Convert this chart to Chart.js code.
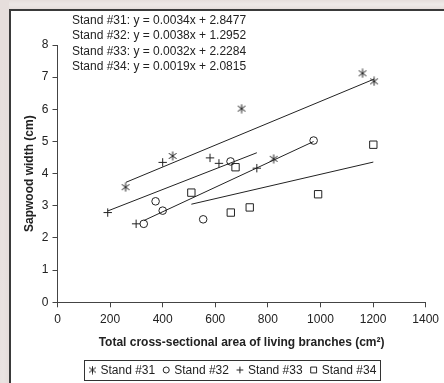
<!DOCTYPE html>
<html>
<head>
<meta charset="utf-8">
<script src="https://cdn.jsdelivr.net/npm/chart.js@4/dist/chart.umd.min.js"></script>
<style>
  html, body { margin: 0; padding: 0; background: #ffffff; overflow: hidden; }
  .bg { position: absolute; background-color: #e6dedc;
        background-image: radial-gradient(ellipse at 30% 50%, rgba(255,255,255,0.4), rgba(255,255,255,0) 70%); }
  #bgTop { left: 0; top: 0; width: 2000px; height: 9px; }
  #bgLeft { left: 0; top: 0; width: 9px; height: 2000px; }
  #lineTop { position: absolute; left: 9px; top: 9px; width: 2000px; height: 1.5px; background: #3a3a3a; }
  #lineLeft { position: absolute; left: 9px; top: 9px; width: 1.5px; height: 2000px; background: #3a3a3a; }
  #wrap { position: absolute; left: 0; top: 0; width: 444px; height: 383px; }
</style>
</head>
<body>
<div class="bg" id="bgTop"></div>
<div class="bg" id="bgLeft"></div>
<div id="lineTop"></div>
<div id="lineLeft"></div>
<div id="wrap"><canvas id="c" width="444" height="383"></canvas></div>
<script>
// ---- Data ----
const standLabels = ['Stand #31', 'Stand #32', 'Stand #33', 'Stand #34'];
const equations = [
  'Stand #31: y = 0.0034x + 2.8477',
  'Stand #32: y = 0.0038x + 1.2952',
  'Stand #33: y = 0.0032x + 2.2284',
  'Stand #34: y = 0.0019x + 2.0815'
];
const s31x = [259, 438, 700, 822, 1160, 1204];
const s31y = [3.58, 4.55, 6.02, 4.46, 7.12, 6.87];
const s32x = [328, 373, 400, 554, 658, 974];
const s32y = [2.44, 3.14, 2.85, 2.58, 4.38, 5.03];
const s33x = [191, 299, 400, 580, 614, 758];
const s33y = [2.79, 2.44, 4.35, 4.49, 4.32, 4.17];
const s34x = [509, 659, 677, 731, 991, 1201];
const s34y = [3.41, 2.79, 4.20, 2.95, 3.36, 4.90];
// trend line end points
const t31x = [260, 1204]; const t31y = [3.73, 6.94];
const t32x = [328, 974];  const t32y = [2.54, 5.00];
const t33x = [191, 758];  const t33y = [2.84, 4.65];
const t34x = [509, 1201]; const t34y = [3.05, 4.36];
const xTicks = [0, 200, 400, 600, 800, 1000, 1200, 1400];
const yTicks = [0, 1, 2, 3, 4, 5, 6, 7, 8];

const INK = '#222222';
const FONT = '"Liberation Sans", Arial, sans-serif';

function pts(xs, ys) { return xs.map((x, i) => ({ x: x, y: ys[i] })); }

// asterisk marker (X with a vertical bar)
function makeAsterisk(size) {
  const c = document.createElement('canvas');
  c.width = size; c.height = size;
  const g = c.getContext('2d');
  const m = size / 2, r = size / 2 - 0.5;
  g.strokeStyle = INK; g.lineWidth = 1;
  g.beginPath();
  g.moveTo(m, m - r); g.lineTo(m, m + r);
  g.moveTo(m - r * 0.85, m - r * 0.6); g.lineTo(m + r * 0.85, m + r * 0.6);
  g.moveTo(m - r * 0.85, m + r * 0.6); g.lineTo(m + r * 0.85, m - r * 0.6);
  g.stroke();
  return c;
}
const asterisk = makeAsterisk(10);
const asteriskSmall = makeAsterisk(9);

const markerStyles = [
  { pointStyle: asterisk, legendStyle: asteriskSmall, radius: 4.5 },
  { pointStyle: 'circle', legendStyle: 'circle', radius: 3.8 },
  { pointStyle: 'cross', legendStyle: 'cross', radius: 4.2 },
  { pointStyle: 'rect', legendStyle: 'rect', radius: 5.2 }
];

function scatterDs(i, data) {
  return {
    type: 'scatter', label: standLabels[i], data: data,
    pointStyle: markerStyles[i].pointStyle, pointRadius: markerStyles[i].radius,
    pointHoverRadius: markerStyles[i].radius,
    borderColor: INK, backgroundColor: 'rgba(0,0,0,0)', pointBorderWidth: 1,
    showLine: false, order: 1
  };
}
function trendDs(i, data) {
  return {
    type: 'line', label: 'trend ' + standLabels[i], data: data,
    borderColor: INK, borderWidth: 1, pointRadius: 0, fill: false,
    tension: 0, order: 2
  };
}

const eqPlugin = {
  id: 'eqText',
  afterDraw(chart) {
    const ctx = chart.ctx;
    ctx.save();
    ctx.fillStyle = INK;
    ctx.font = '12px ' + FONT;
    ctx.textBaseline = 'middle';
    ctx.textAlign = 'left';
    equations.forEach((t, i) => ctx.fillText(t, 72, 20.7 + i * 15.3));
    ctx.restore();
  }
};

const legendPlugin = {
  id: 'boxLegend',
  afterDraw(chart) {
    const ctx = chart.ctx;
    ctx.save();
    ctx.font = '12px ' + FONT;
    const markerW = 8, gapMT = 4, gapItem = 7, padX = 4;
    const widths = standLabels.map(s => ctx.measureText(s).width);
    let total = padX * 2;
    widths.forEach((w, i) => { total += markerW + gapMT + w + (i < widths.length - 1 ? gapItem : 0); });
    const cx = 231.5, cy = 370, h = 20;
    const left = Math.round(cx - total / 2) + 0.5;
    ctx.strokeStyle = '#333'; ctx.lineWidth = 1;
    ctx.strokeRect(left, Math.round(cy - h / 2) + 0.5, Math.round(total), h);
    let x = left + padX;
    standLabels.forEach((s, i) => {
      const st = markerStyles[i];
      ctx.strokeStyle = INK; ctx.fillStyle = 'rgba(0,0,0,0)'; ctx.lineWidth = 1;
      Chart.helpers.drawPoint(ctx, { pointStyle: st.legendStyle, radius: st.radius * 0.8, borderWidth: 1, rotation: 0 }, x + markerW / 2, cy);
      x += markerW + gapMT;
      ctx.fillStyle = INK; ctx.textBaseline = 'middle'; ctx.textAlign = 'left';
      ctx.fillText(s, x, cy + 0.5);
      x += widths[i] + gapItem;
    });
    ctx.restore();
  }
};

new Chart(document.getElementById('c'), {
  data: {
    datasets: [
      scatterDs(0, pts(s31x, s31y)),
      scatterDs(1, pts(s32x, s32y)),
      scatterDs(2, pts(s33x, s33y)),
      scatterDs(3, pts(s34x, s34y)),
      trendDs(0, pts(t31x, t31y)),
      trendDs(1, pts(t32x, t32y)),
      trendDs(2, pts(t33x, t33y)),
      trendDs(3, pts(t34x, t34y))
    ]
  },
  options: {
    responsive: false, animation: false, devicePixelRatio: 1,
    layout: { padding: { left: 10, right: 16, top: 45, bottom: 30 } },
    plugins: { legend: { display: false }, tooltip: { enabled: false } },
    scales: {
      x: {
        type: 'linear', min: 0, max: 1400,
        afterBuildTicks(s) { s.ticks = xTicks.map(v => ({ value: v })); },
        afterFit(s) { s.height = 50.7; },
        grid: { drawOnChartArea: false, drawTicks: true, tickLength: 5, color: '#444', lineWidth: 1 },
        border: { display: true, color: '#444', width: 1 },
        ticks: { color: INK, font: { family: FONT, size: 12 }, padding: 5, maxRotation: 0,
                 callback: v => String(v) },
        title: { display: true, text: 'Total cross-sectional area of living branches (cm²)',
                 color: INK, font: { family: FONT, size: 12, weight: 'bold' }, padding: { top: 0, bottom: 3 } }
      },
      y: {
        type: 'linear', min: 0, max: 8,
        afterBuildTicks(s) { s.ticks = yTicks.map(v => ({ value: v })); },
        afterFit(s) { s.width = 47.5; },
        grid: { drawOnChartArea: false, drawTicks: true, tickLength: 5, color: '#444', lineWidth: 1 },
        border: { display: true, color: '#444', width: 1 },
        ticks: { color: INK, font: { family: FONT, size: 12 }, padding: 4, callback: v => String(v) },
        title: { display: true, text: 'Sapwood width (cm)',
                 color: INK, font: { family: FONT, size: 12, weight: 'bold' }, padding: { top: 12.8, bottom: 0 } }
      }
    }
  },
  plugins: [eqPlugin, legendPlugin]
});
</script>
</body>
</html>
